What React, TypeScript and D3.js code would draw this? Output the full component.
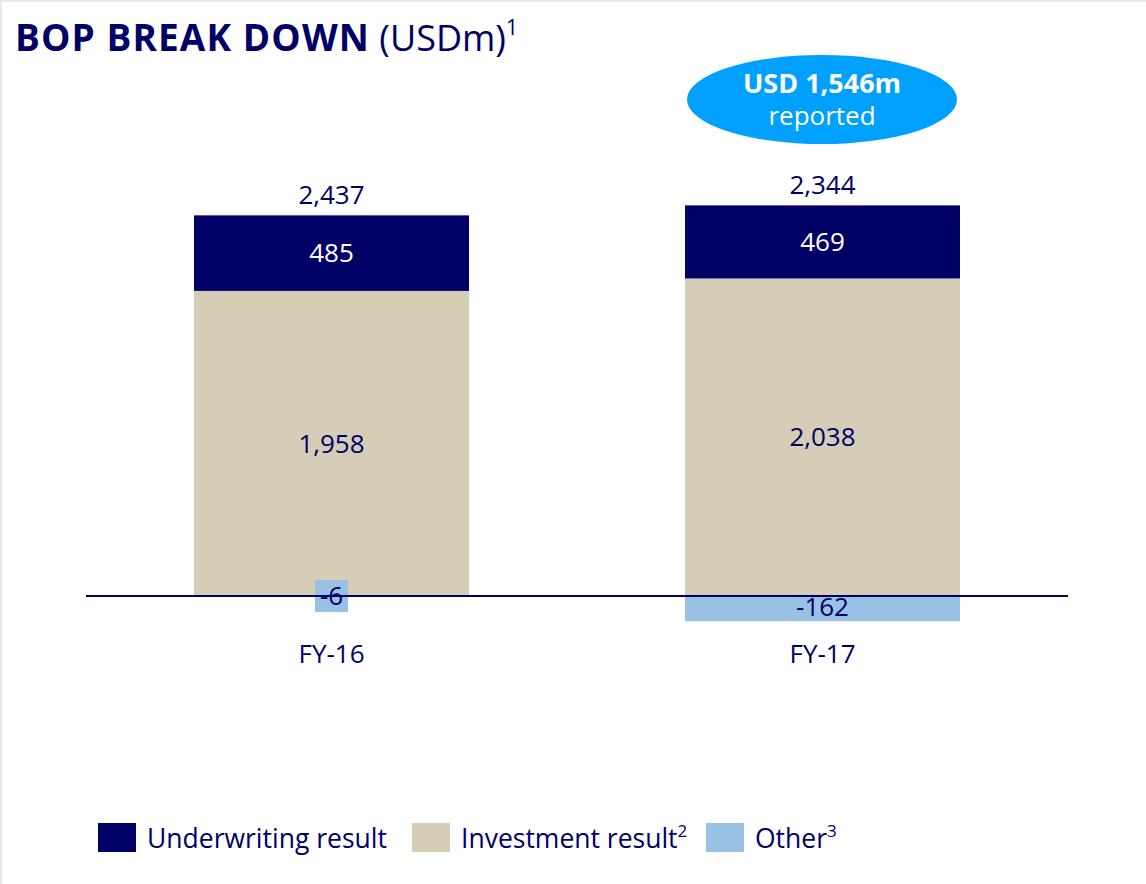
import * as d3 from 'd3'
import React from 'react'

const categories = ['FY-16', 'FY-17']
const underwriting = [485, 469]
const investment = [1958, 2038]
const other = [-6, -162]
const totals = ['2,437', '2,344']
const seriesNames = ['Underwriting result', 'Investment result', 'Other']
const seriesSup = ['', '2', '3']

const NAVY = '#000066'
const BEIGE = '#D5CDB5'
const LIGHT = '#98C1E3'
const BUBBLE = '#00A0FF'
const FONT = '"Open Sans", "Noto Sans", sans-serif'

const W = 1146
const H = 884

const fmt = d3.format(',')

const App = () => {
  const x = d3.scaleBand<string>().domain(categories).range([86, 1068]).paddingInner(0.44).paddingOuter(0.22)
  const y = d3.scaleLinear().domain([-400, 2600]).range([658.3, 190.9])
  const bw = x.bandwidth()

  const legendX = [98, 412, 706]

  return (
    <svg width={W} height={H} style={{ position: 'absolute', left: 0, top: 0, background: '#fff' }} fontFamily={FONT}>
      <rect x={0} y={0} width={W} height={2} fill="#e6e9e8" />
      <rect x={0} y={0} width={2} height={H} fill="#e6e9e8" />

      {/* title */}
      <text x={15} y={51} fill={NAVY} fontSize={37}>
        <tspan fontWeight="bold" letterSpacing={1.1}>BOP BREAK DOWN</tspan>
        <tspan fontSize={36}> (USDm)</tspan>
        <tspan fontSize={21} dy={-16}>1</tspan>
      </text>

      {/* bubble */}
      <ellipse cx={822} cy={99.5} rx={135} ry={44.5} fill={BUBBLE} />
      <text x={822} y={93} textAnchor="middle" fill="#fff" fontSize={27} fontWeight="bold">USD 1,546m</text>
      <text x={822} y={125} textAnchor="middle" fill="#fff" fontSize={26}>reported</text>

      {categories.map((c, i) => {
        const x0 = x(c) as number
        const cx = x0 + bw / 2
        const invTop = y(investment[i])
        const uwTop = y(investment[i] + underwriting[i])
        const othBottom = y(other[i])
        const small = Math.abs(other[i]) < 50
        return (
          <g key={c}>
            <rect x={x0} y={invTop} width={bw} height={y(0) - invTop} fill={BEIGE} />
            <rect x={x0} y={uwTop} width={bw} height={invTop - uwTop} fill={NAVY} />
            <rect x={x0} y={y(0)} width={bw} height={othBottom - y(0)} fill={LIGHT} />
            <text x={cx} y={uwTop - 11} textAnchor="middle" fill={NAVY} fontSize={26}>{totals[i]}</text>
            <text x={cx} y={(uwTop + invTop) / 2} dy="0.35em" textAnchor="middle" fill="#fff" fontSize={26}>{fmt(underwriting[i])}</text>
            <text x={cx} y={(invTop + y(0)) / 2} dy="0.35em" textAnchor="middle" fill={NAVY} fontSize={26}>{fmt(investment[i])}</text>
            {small ? (
              <rect x={cx - 16.5} y={y(0) - 16} width={33} height={32} fill={LIGHT} />
            ) : null}
            <text x={cx} y={small ? y(0) : (y(0) + othBottom) / 2 - 2} dy="0.35em" textAnchor="middle" fill={NAVY} fontSize={26}>
              {String(other[i])}
            </text>
            <text x={cx} y={663} textAnchor="middle" fill={NAVY} fontSize={26}>{c}</text>
          </g>
        )
      })}

      {/* zero line */}
      <line x1={86} x2={1068} y1={y(0)} y2={y(0)} stroke={NAVY} strokeWidth={2} />

      {/* legend */}
      {seriesNames.map((s, i) => (
        <g key={s}>
          <rect x={legendX[i]} y={823} width={38} height={29} fill={[NAVY, BEIGE, LIGHT][i]} />
          <text x={legendX[i] + 49} y={848} fill={NAVY} fontSize={26.5}>
            {s}
            {seriesSup[i] ? <tspan fontSize={17} dy={-11}>{seriesSup[i]}</tspan> : null}
          </text>
        </g>
      ))}
    </svg>
  )
}

export default App
